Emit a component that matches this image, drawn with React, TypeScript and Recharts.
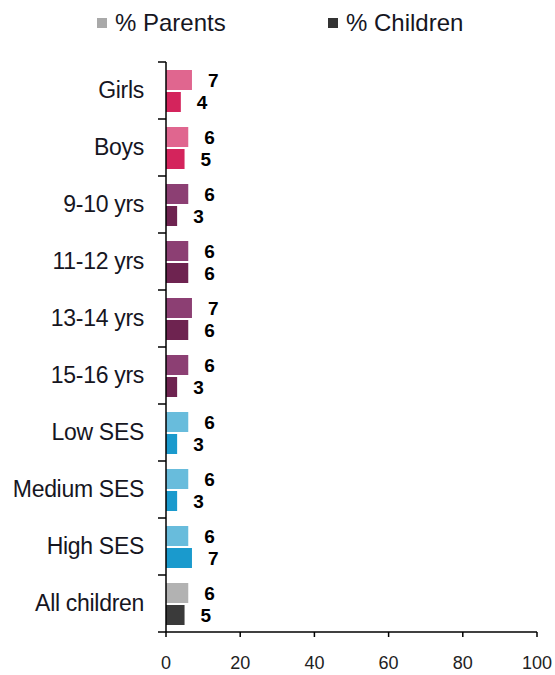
import React from "react";
import { BarChart, Bar, XAxis, YAxis, Cell, LabelList, Legend } from "recharts";

const categories = [
  "Girls",
  "Boys",
  "9-10 yrs",
  "11-12 yrs",
  "13-14 yrs",
  "15-16 yrs",
  "Low SES",
  "Medium SES",
  "High SES",
  "All children",
];
const parents = [7, 6, 6, 6, 7, 6, 6, 6, 6, 6];
const children = [4, 5, 3, 6, 6, 3, 3, 3, 7, 5];
const xTicks = [0, 20, 40, 60, 80, 100];

const parentColors = [
  "#e0668f", "#e0668f",
  "#8c3f73", "#8c3f73", "#8c3f73", "#8c3f73",
  "#68bcdc", "#68bcdc", "#68bcdc",
  "#b2b2b2",
];
const childColors = [
  "#d4245c", "#d4245c",
  "#6e2350", "#6e2350", "#6e2350", "#6e2350",
  "#1a9acd", "#1a9acd", "#1a9acd",
  "#3a3a3a",
];

const data = categories.map((name, i) => ({
  name,
  parents: parents[i],
  children: children[i],
}));

const FONT = "'Liberation Sans', Arial, sans-serif";
const AXIS_X = 166;
const BAND = 57;

function CategoryTick(props: any) {
  const { y, payload, index } = props;
  const last = index === categories.length - 1;
  return (
    <g>
      <line x1={AXIS_X - 8} x2={AXIS_X} y1={y - BAND / 2} y2={y - BAND / 2} stroke="#000" strokeWidth={1.5} />
      {last && (
        <line x1={AXIS_X - 8} x2={AXIS_X} y1={y + BAND / 2} y2={y + BAND / 2} stroke="#000" strokeWidth={1.5} />
      )}
      <text
        x={AXIS_X - 22}
        y={y}
        dy={7}
        textAnchor="end"
        fontSize={23}
        letterSpacing={-0.3}
        fill="#16161f"
        fontFamily={FONT}
      >
        {payload.value}
      </text>
    </g>
  );
}

function LegendContent() {
  const items = [
    { label: "% Parents", color: "#a9a9a9", left: 97 },
    { label: "% Children", color: "#333333", left: 328 },
  ];
  return (
    <div style={{ position: "relative", height: 40, fontFamily: FONT }}>
      {items.map((it) => (
        <div
          key={it.label}
          style={{ position: "absolute", left: it.left, top: 9, display: "flex", alignItems: "center" }}
        >
          <span style={{ width: 10, height: 10, background: it.color, display: "inline-block", marginRight: 8 }} />
          <span style={{ fontSize: 24, color: "#16161f" }}>{it.label}</span>
        </div>
      ))}
    </div>
  );
}

export default function App() {
  return (
    <div style={{ position: "absolute", left: 0, top: 0, background: "#fff" }}>
      <BarChart
        width={555}
        height={675}
        data={data}
        layout="vertical"
        margin={{ top: 22, right: 18, bottom: 0, left: 0 }}
        barCategoryGap={7}
        barGap={2}
      >
        <Legend
          verticalAlign="top"
          align="left"
          content={<LegendContent />}
          wrapperStyle={{ top: 0, left: 0, width: 555, height: 40 }}
        />
        <XAxis
          type="number"
          domain={[0, 100]}
          ticks={xTicks}
          interval={0}
          height={43}
          stroke="#000"
          strokeWidth={1.5}
          tickSize={5}
          tickMargin={19}
          tick={{ fontSize: 18, fill: "#222", fontFamily: FONT }}
        />
        <YAxis
          type="category"
          dataKey="name"
          width={166}
          stroke="#000"
          strokeWidth={1.5}
          tickLine={false}
          tick={<CategoryTick />}
          interval={0}
        />
        <Bar dataKey="parents" barSize={20} isAnimationActive={false}>
          {data.map((d, i) => (
            <Cell key={d.name} fill={parentColors[i]} />
          ))}
          <LabelList
            dataKey="parents"
            position="right"
            offset={16}
            fontSize={19}
            fontWeight="bold"
            fill="#000"
            fontFamily={FONT}
          />
        </Bar>
        <Bar dataKey="children" barSize={20} isAnimationActive={false}>
          {data.map((d, i) => (
            <Cell key={d.name} fill={childColors[i]} />
          ))}
          <LabelList
            dataKey="children"
            position="right"
            offset={16}
            fontSize={19}
            fontWeight="bold"
            fill="#000"
            fontFamily={FONT}
          />
        </Bar>
      </BarChart>
    </div>
  );
}
